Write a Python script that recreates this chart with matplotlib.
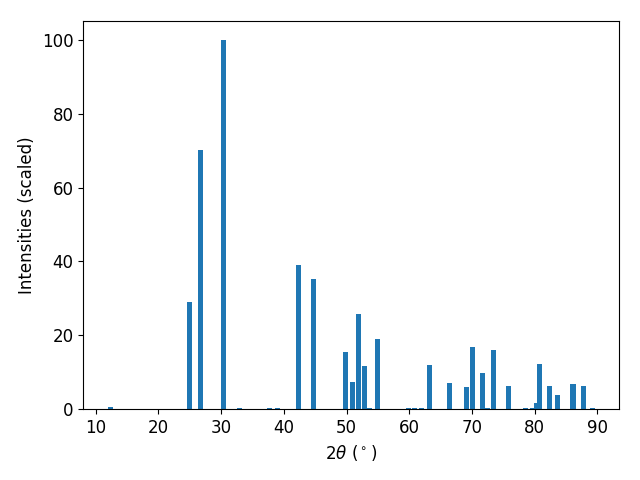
import matplotlib
matplotlib.use("Agg")
import matplotlib.pyplot as plt

two_theta = [12.3, 24.9, 26.7, 30.4, 32.9, 37.7, 39.0, 42.3, 44.7, 49.8,
             51.0, 51.9, 52.8, 53.6, 55.0, 59.8, 60.8, 62.0, 63.3, 66.35,
             69.05, 70.0, 71.6, 72.4, 73.5, 75.8, 78.5, 79.6, 80.3, 80.7,
             82.3, 83.6, 86.1, 87.75, 89.2]
intensity = [0.6, 29.0, 70.2, 100.0, 0.4, 0.4, 0.4, 39.0, 35.2, 15.6,
             7.4, 25.8, 11.8, 0.4, 19.1, 0.4, 0.4, 0.4, 12.0, 7.1,
             6.0, 16.8, 9.8, 0.4, 16.1, 6.3, 0.4, 0.4, 1.7, 12.2,
             6.3, 3.8, 6.8, 6.3, 0.4]

plt.rcParams['font.size'] = 12
fig, ax = plt.subplots(figsize=(6.4, 4.8), dpi=100)
ax.bar(two_theta, intensity, width=0.8)
ax.set_xlabel(r'$2\theta$ ($^\circ$)')
ax.set_ylabel('Intensities (scaled)')
fig.subplots_adjust(left=0.130, right=0.9677, top=0.9556, bottom=0.1473)
fig.savefig('out.png')
